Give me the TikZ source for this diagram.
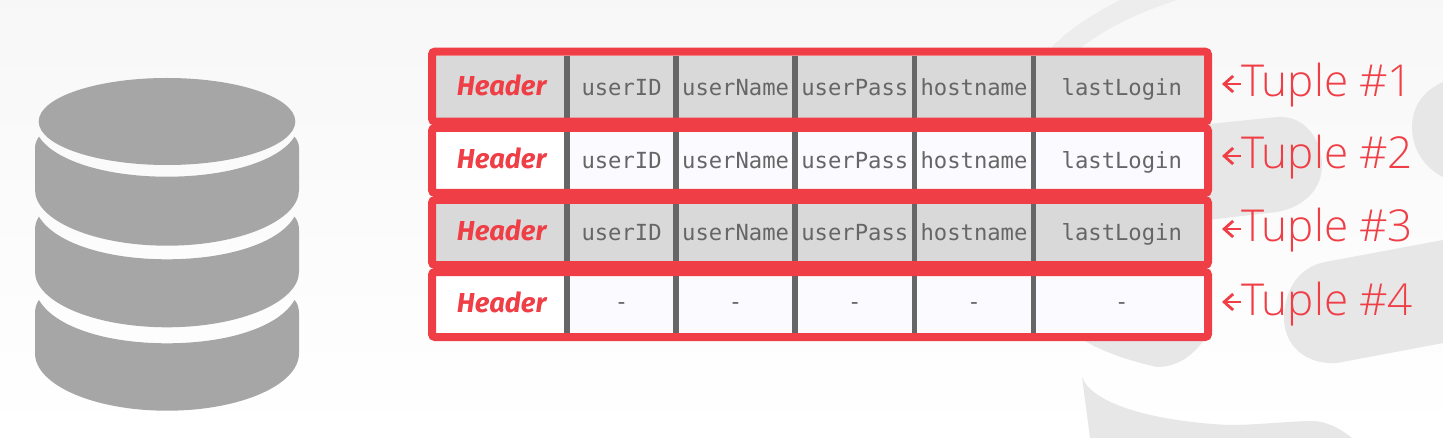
\documentclass[tikz,border=0pt]{standalone}
\usepackage{fontspec}
\usetikzlibrary{arrows.meta}
\newfontfamily\cellfont{DejaVu Sans Mono}
\newfontfamily\headfont{Fira Sans}
\newfontfamily\tuplefont{Open Sans Light}
\definecolor{dbred}{HTML}{EF3E45}
\definecolor{dbgrey}{HTML}{A6A6A6}
\definecolor{markgrey}{HTML}{E7E7E7}
\definecolor{cellgrey}{HTML}{D9D9D9}
\definecolor{cellpale}{HTML}{FBFBFF}
\definecolor{bartext}{HTML}{666666}
\tikzset{
  cell/.style={inner sep=0,outer sep=0,minimum height=29pt,text=bartext,
    font=\cellfont\fontsize{11.1}{13}\selectfont,text height=9.5pt,text depth=1.7pt},
  tall/.style={minimum height=31pt,text height=10pt,text depth=.6pt},
  dark/.style={fill=cellgrey},
  pale/.style={fill=cellpale},
  blank/.style={text height=8.5pt,text depth=3.4pt},
  head/.style={cell,minimum width=65.6pt,text=dbred,
    font=\headfont\bfseries\itshape\fontsize{13.7}{15}\selectfont},
  frame/.style={draw=dbred,line width=4pt,rounded corners=1.5pt,inner sep=0,outer sep=0,
    minimum width=388pt},
  bar/.style={draw=bartext,line width=2.75pt},
  tuple/.style={anchor=west,inner sep=0,outer sep=0,text=dbred,
    font=\tuplefont\fontsize{22}{24}\selectfont,text height=15.5pt,text depth=2.5pt},
  point/.style={draw=dbred,line width=1.4pt,-{Straight Barb[length=4.5pt,width=8pt]}}
}
\begin{document}
\begin{tikzpicture}[x=.5pt,y=-.5pt]
  \useasboundingbox (0,0) rectangle (1443,438);
  % slide background and logo behind the table
  \shade[top color=black!3,bottom color=white] (0,0) rectangle (1443,438);
  \fill[black!7] (1052,47) .. controls (1070,28) and (1095,13) .. (1120,0) -- (1177,0)
    .. controls (1140,12) and (1105,28) .. (1078,50) -- (1052,50) -- cycle;
  \fill[markgrey] (1200,125) -- (1277,117) .. controls (1305,115) and (1322,140) .. (1322,165)
    .. controls (1322,195) and (1295,212) .. (1267,213) -- (1200,221) -- cycle;
  \fill[markgrey] (1443,240) -- (1325,262) .. controls (1295,268) and (1284,295) .. (1284,318)
    .. controls (1284,345) and (1305,365) .. (1337,363) -- (1443,343) -- cycle;
  \fill[markgrey] (1443,82) .. controls (1425,90) and (1412,105) .. (1412,127)
    .. controls (1412,150) and (1425,168) .. (1443,177) -- cycle;
  \fill[markgrey] (1085,335) -- (1085,341) .. controls (1100,350) and (1125,360) .. (1157,367)
    .. controls (1180,367) and (1197,352) .. (1207,335) -- cycle;
  \fill[markgrey] (1082,377) .. controls (1090,400) and (1140,420) .. (1227,425)
    .. controls (1260,425) and (1290,421) .. (1313,421)
    .. controls (1325,421) and (1340,428) .. (1352,438) -- (1090,438) -- cycle;
  % database
  \fill[dbgrey] (167,121.5) ellipse (128.3 and 43.5);
  \fill[dbgrey] (39,136.7) .. controls (36.5,140) and (35,144) .. (35,148) -- (35,190)
    .. controls (35,220.4) and (94,245.7) .. (167,245.7)
    .. controls (240,245.7) and (299,220.4) .. (299,190) -- (299,148)
    .. controls (299,144) and (297.5,140) .. (294.5,136.7)
    .. controls (280,160) and (230,176.7) .. (167,176.7)
    .. controls (104,176.7) and (54,160) .. (39,136.7) -- cycle;
  \fill[dbgrey] (39,216.7) .. controls (36.5,220) and (35,225) .. (35,230) -- (35,271.7)
    .. controls (35,302) and (94,327.3) .. (167,327.3)
    .. controls (240,327.3) and (299,302) .. (299,271.7) -- (299,230)
    .. controls (299,225) and (297.5,220) .. (294.5,216.7)
    .. controls (280,242) and (230,259.3) .. (167,259.3)
    .. controls (104,259.3) and (54,242) .. (39,216.7) -- cycle;
  \fill[dbgrey] (39,300) .. controls (36.5,303) and (35,308) .. (35,313.3) -- (35,353.3)
    .. controls (35,385) and (94,410.7) .. (167,410.7)
    .. controls (240,410.7) and (299,385) .. (299,353.3) -- (299,313.3)
    .. controls (299,308) and (297.5,303) .. (294.5,300)
    .. controls (280,326) and (230,343.3) .. (167,343.3)
    .. controls (104,343.3) and (54,326) .. (39,300) -- cycle;
  % tuple 1
  \draw (501.6,86.6) node[head,tall,dark] (headA) {Header};
  \draw (621.6,86.6) node[cell,tall,dark,minimum width=54.4pt] (idA) {userID};
  \draw (735.6,86.6) node[cell,tall,dark,minimum width=59.6pt] (nameA) {userName};
  \draw (854.8,86.6) node[cell,tall,dark,minimum width=59.6pt] (passA) {userPass};
  \draw (974,86.6) node[cell,tall,dark,minimum width=59.6pt] (hostA) {hostname};
  \draw (1118.8,86.6) node[cell,tall,dark,minimum width=85.3pt] (loginA) {\kern3pt lastLogin};
  % tuple 2
  \draw (501.6,160.5) node[head,fill=white] (headB) {Header};
  \draw (621.6,160.5) node[cell,pale,minimum width=54.4pt] (idB) {userID};
  \draw (735.6,160.5) node[cell,pale,minimum width=59.6pt] (nameB) {userName};
  \draw (854.8,160.5) node[cell,pale,minimum width=59.6pt] (passB) {userPass};
  \draw (974,160.5) node[cell,pale,minimum width=59.6pt] (hostB) {hostname};
  \draw (1118.8,160.5) node[cell,pale,minimum width=85.3pt] (loginB) {\kern3pt lastLogin};
  % tuple 3
  \draw (501.6,232.5) node[head,dark] (headC) {Header};
  \draw (621.6,232.5) node[cell,dark,minimum width=54.4pt] (idC) {userID};
  \draw (735.6,232.5) node[cell,dark,minimum width=59.6pt] (nameC) {userName};
  \draw (854.8,232.5) node[cell,dark,minimum width=59.6pt] (passC) {userPass};
  \draw (974,232.5) node[cell,dark,minimum width=59.6pt] (hostC) {hostname};
  \draw (1118.8,232.5) node[cell,dark,minimum width=85.3pt] (loginC) {\kern3pt lastLogin};
  % tuple 4
  \draw (501.6,304.4) node[head,fill=white] (headD) {Header};
  \draw (621.6,304.4) node[cell,blank,pale,minimum width=54.4pt] (idD) {-};
  \draw (735.6,304.4) node[cell,blank,pale,minimum width=59.6pt] (nameD) {-};
  \draw (854.8,304.4) node[cell,blank,pale,minimum width=59.6pt] (passD) {-};
  \draw (974,304.4) node[cell,blank,pale,minimum width=59.6pt] (hostD) {-};
  \draw (1118.8,304.4) node[cell,blank,pale,minimum width=85.3pt] (loginD) {\kern3pt -};
  % column bars
  \draw[bar] (idA.north west)--(idD.south west);
  \draw[bar] (nameA.north west)--(nameD.south west);
  \draw[bar] (passA.north west)--(passD.south west);
  \draw[bar] (hostA.north west)--(hostD.south west);
  \draw[bar] (loginA.north west)--(loginD.south west);
  % red frames
  \draw (820,86.6) node[frame,minimum height=35pt] (frameA) {};
  \draw (820,160.5) node[frame,minimum height=32.5pt] (frameB) {};
  \draw (820,232.5) node[frame,minimum height=32.5pt] (frameC) {};
  \draw (820,304.5) node[frame,minimum height=32.5pt] (frameD) {};
  % labels
  \draw (1241,84) node[tuple] (tupleA) {Tuple \#1};
  \draw (1241,156) node[tuple] (tupleB) {Tuple \#2};
  \draw (1241,229) node[tuple] (tupleC) {Tuple \#3};
  \draw (1241,302) node[tuple] (tupleD) {Tuple \#4};
  \coordinate (tipA) at (1222,84);
  \coordinate (tipB) at (1222,156);
  \coordinate (tipC) at (1222,229);
  \coordinate (tipD) at (1222,302);
  \draw[point] (tupleA)--(tipA);
  \draw[point] (tupleB)--(tipB);
  \draw[point] (tupleC)--(tipC);
  \draw[point] (tupleD)--(tipD);
\end{tikzpicture}
\end{document}
